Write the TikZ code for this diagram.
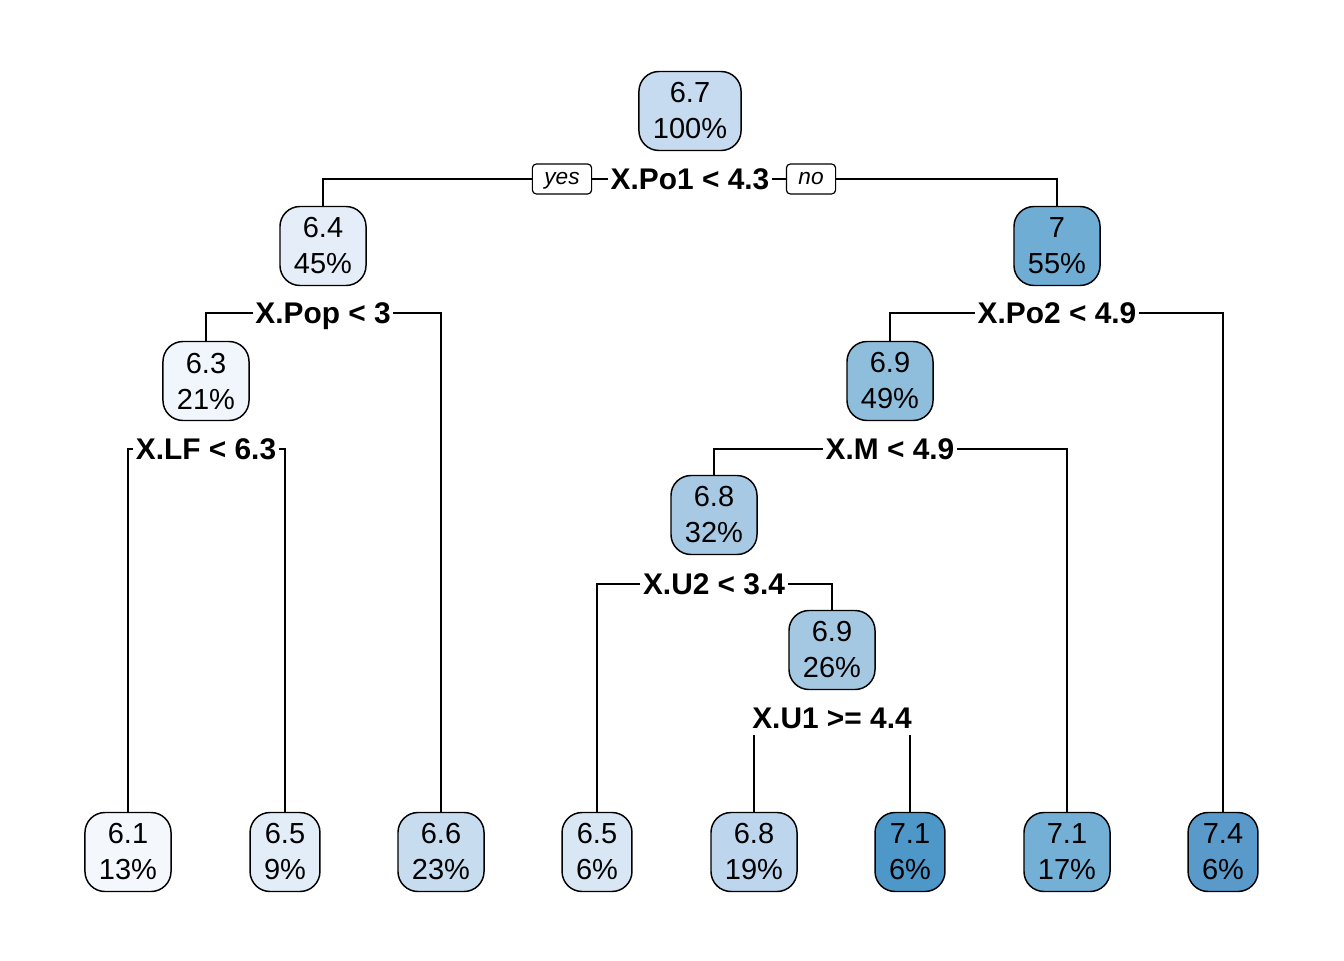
\documentclass[tikz,border=0pt]{standalone}
\usepackage{fontspec}
\setmainfont{Liberation Sans}
\usetikzlibrary{backgrounds}
\definecolor{cA}{HTML}{C6DBEF}
\definecolor{cB}{HTML}{E5EEF8}
\definecolor{cC}{HTML}{F1F6FC}
\definecolor{cD}{HTML}{F4F8FD}
\definecolor{cE}{HTML}{E2EDF8}
\definecolor{cF}{HTML}{C8DCF0}
\definecolor{cG}{HTML}{D9E7F5}
\definecolor{cH}{HTML}{BDD5ED}
\definecolor{cI}{HTML}{A7C9E3}
\definecolor{cJ}{HTML}{A4C7E2}
\definecolor{cK}{HTML}{8FBEDC}
\definecolor{cL}{HTML}{6FADD5}
\definecolor{cM}{HTML}{74B0D6}
\definecolor{cN}{HTML}{4E97C9}
\definecolor{cO}{HTML}{5A9ACB}
\tikzset{
  tnode/.style={draw=black, line width=1.1pt, rounded corners=15pt, align=center,
    inner xsep=10.5pt, inner ysep=0pt, minimum height=59.25pt,
    font=\fontsize{21.75}{27}\selectfont},
  split/.style={fill=white, inner xsep=2pt, inner ysep=0pt, minimum height=25.5pt,
    text height=15.8pt, text depth=0pt,
    font=\fontsize{22.4}{26}\selectfont\bfseries},
  yn/.style={draw=black, fill=white, line width=0.9pt, rounded corners=3pt,
    inner xsep=9pt, inner ysep=0pt, minimum height=22.5pt,
    text height=8.8pt, text depth=0pt,
    font=\fontsize{17}{20}\selectfont\itshape},
  edge/.style={draw=black, line width=0.8pt}
}
\begin{document}
\begin{tikzpicture}[x=0.75pt, y=-0.75pt]
\useasboundingbox (0,0) rectangle (1344,960);
% internal nodes
\node[tnode, fill=cA] (n1) at (690,111) {6.7\\100\%};
\node[tnode, fill=cB] (n2) at (323,246) {6.4\\45\%};
\node[tnode, fill=cL] (n3) at (1057,246) {7\\55\%};
\node[tnode, fill=cC] (n4) at (206,381) {6.3\\21\%};
\node[tnode, fill=cK] (n7) at (890,381) {6.9\\49\%};
\node[tnode, fill=cI] (n14) at (714,515) {6.8\\32\%};
\node[tnode, fill=cJ] (n29) at (832,650) {6.9\\26\%};
% leaves
\node[tnode, fill=cD] (l1) at (128,852) {6.1\\13\%};
\node[tnode, fill=cE] (l2) at (285,852) {6.5\\9\%};
\node[tnode, fill=cF] (l3) at (441,852) {6.6\\23\%};
\node[tnode, fill=cG] (l4) at (597,852) {6.5\\6\%};
\node[tnode, fill=cH] (l5) at (754,852) {6.8\\19\%};
\node[tnode, fill=cN] (l6) at (910,852) {7.1\\6\%};
\node[tnode, fill=cM] (l7) at (1067,852) {7.1\\17\%};
\node[tnode, fill=cO] (l8) at (1223,852) {7.4\\6\%};
% split labels
\node[split] (s1) at (690,179) {X.Po1 < 4.3};
\node[yn] (yes) at (562,179) {yes};
\node[yn] (no) at (811,179) {no};
\node[split] (s2) at (323,313) {X.Pop < 3};
\node[split] (s3) at (1057,313) {X.Po2 < 4.9};
\node[split] (s4) at (206,449) {X.LF < 6.3};
\node[split] (s7) at (890,449) {X.M < 4.9};
\node[split] (s14) at (714,584) {X.U2 < 3.4};
\node[split] (s29) at (832,718) {X.U1 >= 4.4};
% connectors
\begin{scope}[on background layer]
\draw[edge] (yes.center) -| (n2.north);
\draw[edge] (yes.center) -- (no.center);
\draw[edge] (no.center) -| (n3.north);
\draw[edge] (s2.center) -| (n4.north);
\draw[edge] (s2.center) -| (l3.north);
\draw[edge] (s3.center) -| (n7.north);
\draw[edge] (s3.center) -| (l8.north);
\draw[edge] (s4.center) -| (l1.north);
\draw[edge] (s4.center) -| (l2.north);
\draw[edge] (s7.center) -| (n14.north);
\draw[edge] (s7.center) -| (l7.north);
\draw[edge] (s14.center) -| (l4.north);
\draw[edge] (s14.center) -| (n29.north);
\draw[edge] (s29.center) -| (l5.north);
\draw[edge] (s29.center) -| (l6.north);
\end{scope}
\end{tikzpicture}
\end{document}
